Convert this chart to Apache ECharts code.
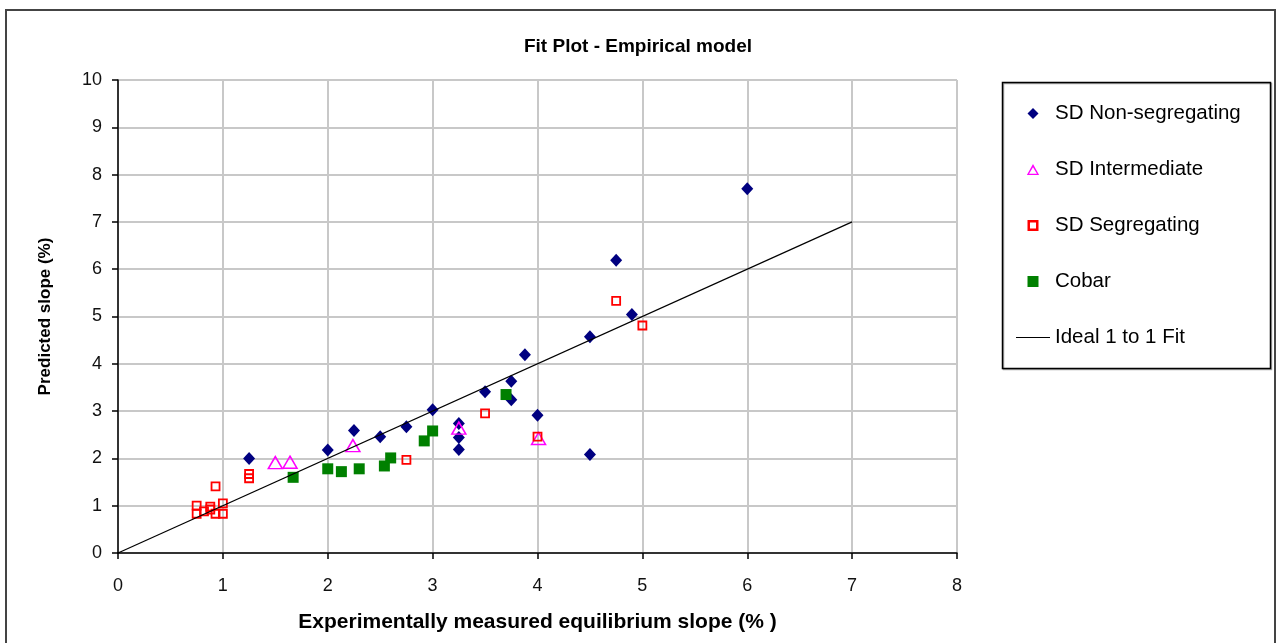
<!DOCTYPE html>
<html>
<head>
<meta charset="utf-8">
<script src="https://cdn.jsdelivr.net/npm/echarts@6/dist/echarts.min.js"></script>
<style>
html,body{margin:0;padding:0;background:#fff;}
#chart{width:1276px;height:643px;}
</style>
</head>
<body>
<div id="chart"></div>
<script>
var nonSegX = [1.25, 2.0, 2.25, 2.5, 2.75, 3.0, 3.25, 3.25, 3.25, 3.5, 3.75, 3.75, 3.88, 4.0, 4.5, 4.5, 4.75, 4.9, 6.0];
var nonSegY = [2.0, 2.18, 2.59, 2.46, 2.67, 3.03, 2.74, 2.44, 2.19, 3.41, 3.63, 3.24, 4.19, 2.91, 4.57, 2.08, 6.19, 5.04, 7.7];

var interX = [1.5, 1.64, 2.24, 3.25, 4.01];
var interY = [1.91, 1.92, 2.27, 2.64, 2.42];

var segX = [0.75, 0.75, 0.82, 0.88, 0.88, 0.93, 0.93, 1.0, 1.0, 1.25, 1.25, 2.75, 3.5, 4.0, 4.75, 5.0];
var segY = [1.0, 0.83, 0.88, 0.98, 0.92, 0.83, 1.41, 1.05, 0.83, 1.67, 1.58, 1.97, 2.95, 2.46, 5.33, 4.81];

var cobarX = [1.67, 2.0, 2.13, 2.3, 2.54, 2.6, 2.92, 3.0, 3.7];
var cobarY = [1.6, 1.78, 1.72, 1.78, 1.84, 2.01, 2.37, 2.58, 3.35];

var fitX = [0, 7];
var fitY = [0, 7];

var seriesNames = ['SD Non-segregating', 'SD Intermediate', 'SD Segregating', 'Cobar', 'Ideal 1 to 1 Fit'];
var titleText = 'Fit Plot - Empirical model';
var xName = 'Experimentally measured equilibrium slope (% )';
var yName = 'Predicted slope (%)';

function zip(xs, ys) { return xs.map(function (x, i) { return [x, ys[i]]; }); }

var FONT = "'Liberation Sans', Arial, sans-serif";
var chart = echarts.init(document.getElementById('chart'), null, {renderer: 'canvas'});
chart.setOption({
  animation: false,
  backgroundColor: '#ffffff',
  title: {
    text: titleText, left: 'center', top: 32,
    textStyle: {fontFamily: FONT, fontSize: 19, fontWeight: 'bold', color: '#000'}
  },
  grid: {left: 118, right: 319, top: 80, bottom: 90, containLabel: false},
  xAxis: {
    type: 'value', min: 0, max: 8, interval: 1,
    name: xName, nameLocation: 'middle', nameGap: 59,
    nameTextStyle: {fontFamily: FONT, fontSize: 21, fontWeight: 'bold', color: '#000'},
    axisLine: {show: true, onZero: false, lineStyle: {color: '#000', width: 1.5}},
    axisTick: {show: true, length: 6, lineStyle: {color: '#000', width: 1.5}},
    axisLabel: {fontFamily: FONT, fontSize: 18, color: '#111', margin: 24},
    splitLine: {show: true, lineStyle: {color: '#c8c8c8', width: 2}}
  },
  yAxis: {
    type: 'value', min: 0, max: 10, interval: 1,
    name: yName, nameLocation: 'middle', nameGap: 64, nameRotate: 90,
    nameTextStyle: {fontFamily: FONT, fontSize: 17, fontWeight: 'bold', color: '#000'},
    axisLine: {show: true, onZero: false, lineStyle: {color: '#000', width: 1.5}},
    axisTick: {show: true, length: 6, lineStyle: {color: '#000', width: 1.5}},
    axisLabel: {fontFamily: FONT, fontSize: 18, color: '#111', margin: 16},
    splitLine: {show: true, lineStyle: {color: '#c8c8c8', width: 2}}
  },
  legend: {
    orient: 'vertical', left: 1016, top: 103,
    itemWidth: 34, itemHeight: 11, itemGap: 35,
    symbolKeepAspect: true,
    padding: 0,
    textStyle: {fontFamily: FONT, fontSize: 20.5, color: '#000', lineHeight: 20},
    data: [
      {name: seriesNames[0], icon: 'path://M5,0 L10,5 L5,10 L0,5 Z', itemStyle: {color: '#000080', borderWidth: 0}},
      {name: seriesNames[1], icon: 'path://M5,0 L10,9 L0,9 Z M5,2.6 L1.8,8 L8.2,8 Z', itemStyle: {color: '#ff00ff', borderWidth: 0}},
      {name: seriesNames[2], icon: 'path://M0,0 L8,0 L8,8 L0,8 Z M1.8,1.8 L1.8,6.2 L6.2,6.2 L6.2,1.8 Z', itemStyle: {color: '#ff0000', borderWidth: 0}},
      {name: seriesNames[3], icon: 'path://M0,0 L9,0 L9,9 L0,9 Z', itemStyle: {color: '#008000', borderWidth: 0}},
      {name: seriesNames[4], icon: 'path://M0,0 L340,0 L340,11 L0,11 Z', itemStyle: {color: '#000', borderWidth: 0}}
    ]
  },
  graphic: [
    {type: 'rect', shape: {x: 6, y: 10, width: 1269, height: 660}, style: {fill: 'none', stroke: '#444', lineWidth: 2}, silent: true, z: 100},
    {type: 'rect', shape: {x: 1002.5, y: 82.5, width: 268, height: 286}, style: {fill: 'none', stroke: '#000', lineWidth: 1.5, shadowColor: 'rgba(0,0,0,0.35)', shadowOffsetX: 1, shadowOffsetY: 1}, silent: true, z: 100}
  ],
  series: [
    {name: seriesNames[0], type: 'scatter', symbol: 'diamond', symbolSize: [12, 13],
     itemStyle: {color: '#000080', opacity: 1}, data: zip(nonSegX, nonSegY), z: 3},
    {name: seriesNames[1], type: 'scatter', symbol: 'triangle', symbolSize: [14, 12],
     itemStyle: {color: 'rgba(255,255,255,0)', borderColor: '#ff00ff', borderWidth: 1.5, opacity: 1}, data: zip(interX, interY), z: 4},
    {name: seriesNames[2], type: 'scatter', symbol: 'rect', symbolSize: 8,
     itemStyle: {color: 'rgba(255,255,255,0)', borderColor: '#ff0000', borderWidth: 1.8, opacity: 1}, data: zip(segX, segY), z: 5},
    {name: seriesNames[3], type: 'scatter', symbol: 'rect', symbolSize: 11,
     itemStyle: {color: '#008000', opacity: 1}, data: zip(cobarX, cobarY), z: 6},
    {name: seriesNames[4], type: 'line', symbol: 'none', showSymbol: false,
     lineStyle: {color: '#000', width: 1.2}, itemStyle: {color: '#000'}, data: zip(fitX, fitY), z: 7}
  ]
});
</script>
</body>
</html>
